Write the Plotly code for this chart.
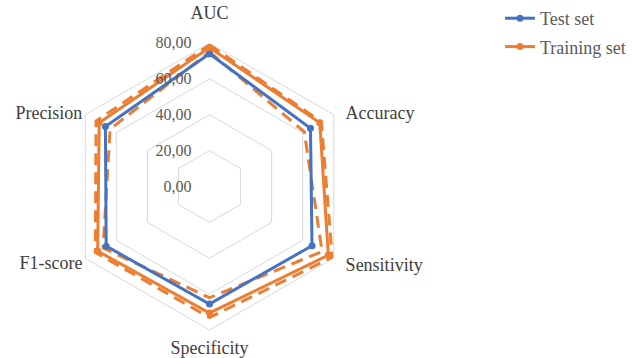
import plotly.graph_objects as go

# Model evaluation metrics (%) for test and training sets
metrics = ["AUC", "Accuracy", "Sensitivity", "Specificity", "F1-score", "Precision"]
test_set = [74.0, 65.0, 66.0, 65.5, 66.5, 67.0]
training_set = [77.5, 71.0, 76.5, 70.5, 72.0, 71.0]
training_upper = [79.0, 72.0, 79.0, 73.0, 73.5, 73.0]
training_lower = [75.0, 61.0, 72.5, 62.0, 68.5, 64.0]

radial_ticks = [0, 20, 40, 60, 80]
radial_tick_labels = ["0,00", "20,00", "40,00", "60,00", "80,00"]

BLUE = "#4472C4"
ORANGE = "#ED7D31"
FONT = "Liberation Serif"
NBSP = "\u00a0"


def big(text, shift=0):
    style = "font-size:18px"
    if shift:
        style += f";baseline-shift:{-shift}px"
    return f"<span style='{style}'>{text}</span>"


def closed(values):
    return list(values) + [values[0]]


theta = closed(metrics)

# category labels: a little extra room around the hexagon
angular_labels = {
    "AUC": big("AUC") + "<br>" + NBSP,
    "Accuracy": big(NBSP * 2 + "Accuracy", 3),
    "Sensitivity": big(NBSP * 2 + "Sensitivity"),
    "Specificity": big("Specificity", 7),
    "F1-score": big("F1-score", -2),
    "Precision": big("Precision", 3),
}
angular_text = [angular_labels.get(m, big(m)) for m in metrics]

fig = go.Figure()

# confidence bounds of the training set (dashed, no legend entry)
for bound in (training_lower, training_upper):
    fig.add_trace(go.Scatterpolar(
        r=closed(bound), theta=theta, mode="lines",
        line=dict(color=ORANGE, width=3, dash="12px,7px"),
        showlegend=False, hoverinfo="skip",
    ))

fig.add_trace(go.Scatterpolar(
    r=closed(test_set), theta=theta, mode="lines+markers", name="Test set",
    line=dict(color=BLUE, width=3), marker=dict(color=BLUE, size=7),
    legendrank=1, legendgroup="test",
))
fig.add_trace(go.Scatterpolar(
    r=closed(training_set), theta=theta, mode="lines+markers", name="Training set",
    line=dict(color=ORANGE, width=3), marker=dict(color=ORANGE, size=7),
    legendrank=2, legendgroup="train",
))

W, H = 632, 358
cx, cy, rad = 209.5, 186.5, 143.5

fig.update_layout(
    width=W, height=H,
    margin=dict(l=0, r=0, t=cy - rad, b=H - (cy + rad), autoexpand=False),
    paper_bgcolor="white",
    font=dict(family=FONT, color="#595959"),
    polar=dict(
        domain=dict(x=[(cx - rad) / W, (cx + rad) / W], y=[0, 1]),
        bgcolor="white",
        gridshape="linear",
        angularaxis=dict(
            rotation=90, direction="clockwise",
            tickmode="array", tickvals=metrics, ticktext=angular_text,
            showgrid=False, showline=True, linecolor="#d9d9d9", linewidth=1,
            ticks="",
            tickfont=dict(family=FONT, size=14, color="#404040"),
        ),
        radialaxis=dict(
            range=[0, 80], tickvals=radial_ticks, ticktext=radial_tick_labels,
            angle=90, side="counterclockwise", tickangle=90, showline=False,
            ticks="outside", ticklen=12, tickcolor="rgba(0,0,0,0)",
            gridcolor="#d9d9d9", gridwidth=1,
            tickfont=dict(family=FONT, size=16, color="#595959"),
        ),
    ),
    legend=dict(
        x=500 / W, y=1.0, xanchor="left", yanchor="top", yref="container",
        font=dict(family=FONT, size=18, color="#595959"),
        traceorder="grouped", tracegroupgap=2,
        bgcolor="rgba(0,0,0,0)",
    ),
)

fig.write_html("out.html")
